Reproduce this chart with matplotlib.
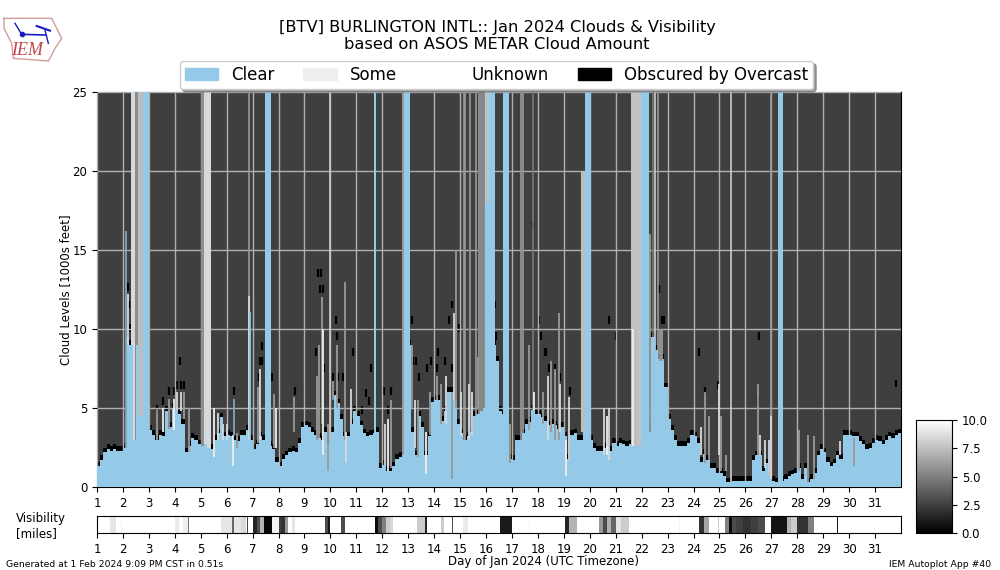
import matplotlib
matplotlib.use("Agg")
import matplotlib.pyplot as plt
from matplotlib.cm import ScalarMappable
from matplotlib.colors import Normalize
from matplotlib.patches import Patch
import numpy as np

BLUE = "#94c9e7"
DARK = "#3f3f3f"
LIGHT = "#d4dadd"
WHITE = "#eeeeee"
GRAY = "#999999"
STEEL = "#7fa5ba"

# lowest cloud level in 1000s ft, one value per 3 hours, one row per day
ceiling = [
    1.3, 1.7, 2.2, 2.4, 2.3, 2.4, 2.3, 2.3,
    2.5, 9.5, 9.0, 3.0, 9.0, 4.5, 4.4, 4.4,
    3.6, 3.3, 3.0, 3.3, 3.2, 4.8, 3.8, 5.0,
    4.9, 4.6, 4.0, 2.2, 2.6, 3.1, 3.0, 2.7,
    2.6, 2.7, 2.5, 2.4, 3.0, 3.4, 4.4, 3.2,
    3.3, 3.2, 3.0, 2.9, 3.3, 3.3, 3.6, 3.0,
    2.4, 2.7, 3.2, 3.0, 2.6, 2.6, 2.4, 1.6,
    1.3, 1.8, 2.0, 2.2, 2.3, 2.2, 2.8, 3.8,
    3.9, 3.8, 3.5, 3.3, 3.1, 3.0, 3.5, 2.8,
    3.5, 5.8, 5.3, 4.3, 3.2, 3.2, 4.0, 4.8,
    4.5, 3.9, 3.4, 3.2, 3.3, 3.4, 3.5, 1.2,
    1.4, 1.0, 1.0, 1.3, 1.8, 1.9, 2.0, 12.0,
    9.0, 3.5, 2.0, 4.5, 3.8, 2.0, 3.2, 5.4,
    5.5, 5.5, 4.2, 4.8, 6.0, 6.0, 5.5, 4.0,
    3.4, 3.0, 3.2, 3.5, 4.5, 4.6, 4.8, 5.0,
    5.0, 5.0, 9.0, 8.0, 4.8, 4.6, 2.1, 1.8,
    1.7, 3.0, 3.0, 3.4, 4.0, 4.1, 4.9, 4.6,
    4.6, 4.4, 4.2, 3.9, 4.0, 3.9, 3.7, 3.8,
    3.2, 1.8, 3.3, 3.4, 3.0, 3.0, 4.0, 3.5,
    3.0, 2.5, 2.3, 2.3, 2.5, 2.6, 2.3, 2.8,
    2.6, 2.8, 2.7, 2.6, 2.7, 2.6, 2.6, 2.6,
    2.6, 2.6, 3.5, 9.5, 8.7, 8.1, 8.1, 6.3,
    4.3, 3.6, 3.0, 2.6, 2.6, 2.6, 2.8, 3.3,
    3.2, 2.8, 1.6, 2.1, 1.7, 1.2, 1.2, 0.9,
    0.9, 0.7, 0.3, 0.3, 0.4, 0.4, 0.4, 0.4,
    0.4, 0.4, 1.7, 2.0, 2.0, 1.0, 1.5, 0.7,
    0.4, 0.3, 0.3, 0.4, 0.5, 0.7, 0.8, 0.9,
    1.2, 0.5, 1.2, 0.3, 0.5, 0.9, 2.0, 2.4,
    2.2, 1.6, 1.3, 1.5, 2.0, 1.8, 3.3, 3.3,
    3.3, 3.2, 3.2, 2.9, 2.7, 2.4, 2.5, 2.8,
    3.0, 2.9, 2.7, 3.0, 3.2, 3.1, 3.3, 3.4,
]

# spells with no clouds at all
clear_start = [2.79, 7.46, 11.67, 12.85, 16.13, 16.67, 19.83, 21.97, 27.27]
clear_end = [3.0, 7.69, 11.77, 13.06, 16.33, 16.9, 20.05, 22.3, 27.46]

# spells of scattered cloud, full height
some_start = [2.31, 2.45, 2.6, 5.0, 5.14, 12.75, 15.7, 15.96, 21.6]
some_end = [2.45, 2.6, 2.79, 5.14, 5.4, 12.85, 15.96, 16.13, 21.97]
some_color = [LIGHT, "#8c8c8c", "#bdbdbd", "#909090", LIGHT, "#9a9a9a", "#888888", "#b8c4ca", "#c2c2c2"]

# thin full height readings
line_days = [6.85, 9.97, 15.2, 15.4, 15.63, 15.15, 17.35, 17.42, 17.8, 22.5, 22.43, 25.43, 27.0, 22.62]
line_color = [GRAY, "#cccccc", GRAY, GRAY, GRAY, GRAY, GRAY, GRAY, "#777777", "#cccccc", "#777777", "#cccccc", GRAY, GRAY]

# short readings that poke above the cloud base
spike_days = [2.13, 2.18, 3.31, 3.56, 3.78, 3.95, 4.1, 4.23, 4.37, 4.55, 5.5, 5.65, 5.85, 6.0,
              6.23, 6.3, 6.4, 6.86, 6.9, 7.22, 7.28, 7.82, 7.9, 8.6, 9.5, 9.57, 9.67, 9.7, 9.9,
              10.1, 10.25, 10.57, 10.6, 10.8,
              12.1, 12.23, 12.32, 13.13, 13.26, 13.38, 13.7, 13.83, 14.1, 14.25, 14.47, 14.67,
              14.75, 14.83, 15.05, 15.35, 15.45, 15.7, 16.05, 16.93, 17.65, 17.85, 18.2, 18.4, 18.5,
              18.67, 18.8, 18.87, 19.1, 19.2, 19.72, 20.55, 20.65, 20.75, 21.65, 21.8,
              22.32, 22.7, 22.8,
              24.3, 24.45, 24.58, 24.97, 25.07, 25.27, 26.5, 26.57, 26.75, 26.9, 27.0,
              28.05, 28.42, 28.65, 29.65, 30.2]
spike_low = [2.5, 9.0, 3.0, 3.5, 3.7, 3.6, 4.9, 4.8, 4.3, 2.2, 1.9, 3.0, 3.0, 3.0,
             1.3, 3.2, 2.5, 3.0, 3.0, 2.8, 3.0, 2.5, 2.5, 3.5, 3.0, 3.1, 4.0, 2.0, 1.0,
             5.5, 5.0, 3.0, 1.5, 4.0,
             1.4, 1.0, 1.2, 5.0, 2.5, 1.9, 0.8, 3.3, 5.5, 4.0, 4.0, 0.5,
             5.5, 5.0, 3.2, 3.0, 3.2, 5.0, 5.0, 1.5, 3.6, 4.9, 4.0, 3.0, 3.5,
             3.0, 3.0, 3.5, 0.7, 1.7, 3.5, 2.0, 2.0, 1.7, 2.6, 2.6,
             3.5, 8.0, 8.0,
             2.0, 1.5, 1.7, 2.0, 1.0, 1.0, 2.0, 2.0, 1.2, 0.7, 0.5,
             1.0, 0.3, 0.5, 2.0, 1.3]
spike_high = [16.2, 12.2, 5.0, 5.0, 5.6, 5.6, 6.0, 6.0, 6.0, 5.0, 5.0, 4.7, 4.0, 4.0,
              3.3, 5.6, 3.4, 12.1, 11.1, 6.3, 7.5, 5.9, 5.0, 5.7, 7.0, 9.0, 12.0, 10.0, 4.0,
              6.7, 9.0, 13.0, 3.5, 6.2,
              4.0, 4.3, 5.5, 9.0, 5.5, 5.5, 3.5, 6.0, 7.0, 6.5, 7.0, 6.0,
              11.0, 15.0, 6.0, 6.5, 6.0, 8.2, 18.0, 4.0, 9.0, 6.0, 6.0, 7.0, 8.0,
              7.5, 11.0, 6.5, 3.0, 5.7, 20.0, 5.0, 4.5, 5.0, 10.0, 10.0,
              16.0, 10.0, 10.0,
              3.8, 6.0, 4.5, 6.5, 4.5, 2.0, 6.5, 3.3, 3.0, 3.0, 4.5,
              3.6, 3.3, 3.2, 2.9, 3.1]
spike_color = [STEEL, LIGHT, GRAY, WHITE, GRAY, WHITE, LIGHT, LIGHT, GRAY, GRAY, WHITE, LIGHT, LIGHT, LIGHT,
               WHITE, STEEL, GRAY, LIGHT, BLUE, GRAY, LIGHT, GRAY, WHITE, GRAY, GRAY, GRAY, GRAY, WHITE, GRAY,
               GRAY, GRAY, GRAY, LIGHT, LIGHT,
               LIGHT, WHITE, GRAY, GRAY, LIGHT, GRAY, WHITE, GRAY, GRAY, GRAY, LIGHT, GRAY,
               LIGHT, GRAY, LIGHT, LIGHT, LIGHT, GRAY, BLUE, GRAY, GRAY, WHITE, GRAY, LIGHT, GRAY,
               GRAY, GRAY, LIGHT, WHITE, LIGHT, "#bdbdbd", LIGHT, WHITE, LIGHT, WHITE, "#bdbdbd",
               GRAY, GRAY, GRAY,
               LIGHT, GRAY, GRAY, LIGHT, GRAY, GRAY, GRAY, LIGHT, LIGHT, LIGHT, LIGHT,
               GRAY, GRAY, GRAY, LIGHT, GRAY]
spike_widths = [3 if d in (16.05, 19.72) else 1.3 for d in spike_days]

# stray black readings well above the base
dot_days = [2.18, 2.22, 2.28, 3.31, 3.54, 3.76, 3.95, 4.1, 4.23, 4.37, 4.2, 6.3, 6.9, 7.35, 7.28, 7.36,
            7.24, 7.75, 8.63, 9.46, 9.53, 9.65, 9.6, 9.7, 9.75, 10.2, 10.24, 10.1, 10.3, 10.5, 10.87,
            11.58, 11.38, 11.49, 11.23, 12.08, 12.33, 12.23, 13.13, 13.2, 13.3, 14.15, 13.87, 14.4,
            14.67, 14.58, 14.95, 13.74, 14.12, 14.7, 13.4, 16.33, 16.4, 17.8, 18.13, 18.04, 18.26,
            18.32, 18.42, 18.67, 18.87, 19.24, 20.73, 21.0, 22.68, 22.78, 22.88, 24.2, 26.53, 31.8,
            24.45, 24.96, 26.5]
dot_levels = [12.4, 11.3, 9.8, 4.7, 5.2, 5.8, 5.8, 6.2, 6.2, 6.2, 7.7, 5.8, 10.2, 8.7, 7.7, 7.7,
              6.7, 6.7, 5.8, 8.3, 13.3, 13.3, 12.3, 12.3, 7.3, 10.3, 9.3, 6.7, 6.7, 6.7, 8.3,
              7.3, 5.7, 5.2, 4.6, 5.8, 5.8, 4.6, 10.3, 7.7, 7.7, 8.3, 7.7, 7.7,
              11.3, 10.3, 9.8, 7.3, 7.3, 7.3, 6.7, 11.3, 9.3, 16.3, 9.3, 10.3, 8.3,
              8.3, 7.3, 7.3, 6.7, 5.8, 10.3, 9.3, 12.3, 10.3, 10.3, 8.3, 9.3, 6.3,
              5.8, 6.2, 5.2]

# visibility in miles, vis_values[i] holds from vis_edges[i] to vis_edges[i + 1]
vis_edges = [1.0, 1.03, 1.5, 1.75, 1.93, 1.98, 4.02, 4.15, 4.3, 4.5, 4.56, 5.8, 6.2, 6.28, 6.55, 6.75,
             6.78, 6.83, 7.03, 7.15, 7.3, 7.45, 7.75, 8.0, 8.1, 8.25, 8.35, 8.5, 8.65,
             9.8, 9.9, 10.0, 10.4, 10.55, 11.7, 11.85, 12.0, 12.15, 12.3, 12.4, 13.35, 13.65, 13.72,
             14.27, 14.37, 14.67, 14.72, 15.1, 15.3, 16.54, 17.0, 17.65, 17.68, 19.05, 19.2, 19.5,
             20.35, 20.5, 20.65, 20.8, 21.0, 21.2, 21.5, 23.43, 23.47, 24.2, 24.4, 24.6, 24.93,
             25.0, 25.2, 25.35, 25.48, 25.65, 25.9, 26.2, 26.5, 26.75, 27.0, 27.6, 27.75, 28.0,
             28.4, 28.65, 29.52, 29.58, 32.0]
vis_values = [7, 10, 9, 10, 9.5, 10, 9.2, 10, 9.3, 4.5, 10, 9, 4, 9, 8.5,
              10, 2.5, 10, 1.5, 3, 7, 0.3, 9.5, 2.5, 2, 6, 10, 9,
              10, 3, 1, 10, 3, 10, 0.5, 3, 5, 8, 8.5, 10, 8, 1.5,
              10, 8, 10, 3, 10, 9.2, 10, 1, 10, 9.5, 10, 1.5, 7,
              10, 6, 3, 7, 4, 9, 8, 10, 9.5, 10, 2, 6.5, 10,
              8, 10, 5, 0.5, 3, 2.5, 2, 2.5, 3, 10, 0.8, 7, 8, 2,
              5, 10, 1, 10]

day_ticks = np.arange(1, 32)
level_ticks = [0, 5, 10, 15, 20, 25]

plt.rcParams["font.size"] = 8.5

fig = plt.figure(figsize=(10, 5.7), dpi=100)
ax = fig.add_axes([0.097, 83 / 570, 0.804, 395 / 570])
ax2 = fig.add_axes([0.097, 37 / 570, 0.804, 17 / 570])
cax = fig.add_axes([0.916, 37 / 570, 0.036, 113 / 570])

# cloud panel, dark background is the overcast layer
ax.set_facecolor(DARK)
edges = 1 + np.arange(len(ceiling) + 1) / 8
ax.stairs(ceiling, edges, fill=True, color=BLUE, zorder=2)
ax.bar(edges[:-1], 0.3, bottom=ceiling, width=1 / 8, align="edge", color="black", linewidth=0, zorder=2)
ax.vlines(dot_days, dot_levels, np.array(dot_levels) + 0.5, color="black", lw=1.6, zorder=2)

for s, e, c in zip(some_start, some_end, some_color):
    ax.axvspan(s, e, color=c, lw=0, zorder=3)
ax.vlines(line_days, 0, 25, colors=line_color, lw=1.2, zorder=3)
ax.stairs(ceiling, edges, fill=True, color=BLUE, zorder=3)
ax.vlines(spike_days, spike_low, spike_high, colors=spike_color, lw=spike_widths, zorder=3)
for s, e in zip(clear_start, clear_end):
    ax.axvspan(s, e, color=BLUE, lw=0, zorder=3)

ax.grid(True, color="#b0b0b0", lw=1.0, zorder=4)
ax.set_axisbelow(False)
ax.set_xlim(1, 32)
ax.set_ylim(0, 25)
ax.set_xticks(day_ticks)
ax.set_yticks(level_ticks)
ax.set_ylabel("Cloud Levels [1000s feet]", fontsize=8.5, labelpad=0)
ax.set_title("[BTV] BURLINGTON INTL:: Jan 2024 Clouds & Visibility\nbased on ASOS METAR Cloud Amount",
             fontsize=11.7, pad=31, x=0.4975)

handles = [Patch(color=BLUE, label="Clear"), Patch(color="#eeeeee", label="Some"),
           Patch(color="white", label="Unknown"), Patch(color="black", label="Obscured by Overcast")]
ax.legend(handles=handles, ncol=4, fontsize=12, loc="lower center", bbox_to_anchor=(0.497, 0.995),
          shadow=True, borderaxespad=0.3, columnspacing=1.7, borderpad=0.3)

# visibility strip
ax2.pcolormesh(vis_edges, [0, 1], [vis_values], cmap="gray", vmin=0, vmax=10)
ax2.set_xlim(1, 32)
ax2.set_xticks(day_ticks)
ax2.set_yticks([])
fig.text(0.016, 44 / 570, "Visibility\n[miles]", fontsize=8.5, va="center", ha="left")
fig.text(0.543, 8 / 570, "Day of Jan 2024 (UTC Timezone)", fontsize=8.5, ha="center", va="center")

fig.colorbar(ScalarMappable(Normalize(0, 10), cmap="gray"), cax=cax, ticks=[0, 2.5, 5, 7.5, 10])

fig.text(0.006, 1 / 570, "Generated at 1 Feb 2024 9:09 PM CST in 0.51s", fontsize=6.7, va="bottom")
fig.text(0.991, 1 / 570, "IEM Autoplot App #40", fontsize=6.7, va="bottom", ha="right")

# IEM logo
logo = fig.add_axes([0, 1 - 65 / 570, 0.065, 65 / 570])
logo.set_xlim(0, 195)
logo.set_ylim(195, 0)
logo.axis("off")
logo.plot([12, 155, 165, 185, 165, 155, 145, 40, 35, 12, 12], [55, 55, 75, 115, 145, 165, 183, 175, 130, 85, 55],
          color="#d39a9a", lw=1)
logo.plot([65, 135], [103, 105], color="#1a1abf", lw=1.2)
logo.plot([45, 65], [70, 103], color="#1a1abf", lw=1)
logo.plot([110, 150], [78, 92], color="#1a1abf", lw=1.5)
logo.plot([135, 145], [90, 130], color="#1a1abf", lw=1)
logo.plot([65], [103], "o", color="#1a1abf", ms=3)
logo.text(80, 152, "IEM", color="#c0474a", fontsize=13, family="Liberation Serif", style="italic", ha="center", va="center")

fig.savefig("out.png", dpi=100)
